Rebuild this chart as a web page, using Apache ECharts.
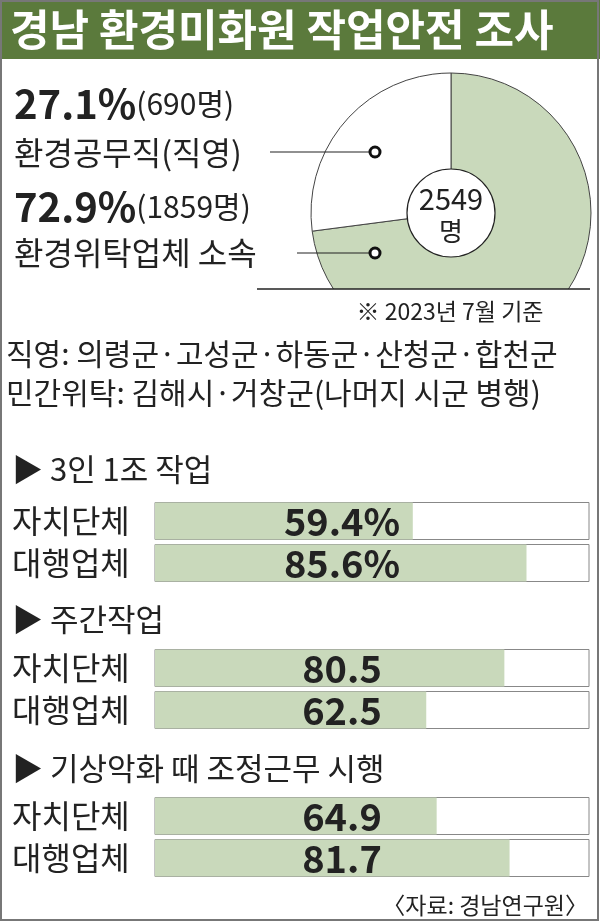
<!DOCTYPE html>
<html><head><meta charset="utf-8">
<script src="https://cdn.jsdelivr.net/npm/echarts@6/dist/echarts.min.js"></script>
<style>html,body{margin:0;padding:0;background:#fff}#c{width:600px;height:922px}</style>
</head><body><div id="c"></div>
<script>
const pieNames = ['환경위탁업체 소속', '환경공무직(직영)'];
const pieValues = [1859, 690];
const rowCats = ['자치단체', '대행업체'];
const sec1 = [59.4, 85.6];
const sec2 = [80.5, 62.5];
const sec3 = [64.9, 81.7];
const sectionTitles = ['▶ 3인 1조 작업', '▶ 주간작업', '▶ 기상악화 때 조정근무 시행'];

const F = '"Noto Sans CJK KR", sans-serif';
const GREEN = '#c9d9bb';
const chart = echarts.init(document.getElementById('c'), null, {renderer: 'canvas'});
const tops = [500, 647, 795];
const secs = [sec1, sec2, sec3];
const grids = [], xAxes = [], yAxes = [], series = [];
secs.forEach((s, i) => {
  grids.push({left: 155, right: 11, top: tops[i], height: 84});
  xAxes.push({gridIndex: i, type: 'value', min: 0, max: 100, show: false});
  yAxes.push({gridIndex: i, type: 'category', data: rowCats, inverse: true,
    axisLine: {show: false}, axisTick: {show: false},
    axisLabel: {fontFamily: F, fontSize: 32, color: '#222', align: 'left', margin: 143}});
  series.push({type: 'bar', xAxisIndex: i, yAxisIndex: i, data: s, barWidth: 37,
    itemStyle: {color: GREEN}, showBackground: true,
    backgroundStyle: {color: '#fff', borderColor: '#888', borderWidth: 1}, silent: true});
  series.push({type: 'bar', xAxisIndex: i, yAxisIndex: i, data: s.map(() => 100), barWidth: 37, barGap: '-100%',
    itemStyle: {color: 'rgba(0,0,0,0)'}, silent: true,
    label: {show: true, position: 'inside', offset: [-30, 1], fontFamily: F, fontWeight: 'bold', fontSize: 38, color: '#222',
      formatter: p => s[p.dataIndex].toFixed(1) + (i === 0 ? '%' : '')}});
});
series.push({type: 'pie', center: [451, 213], radius: [0, 140], startAngle: 90, clockwise: true,
  silent: true, label: {show: false}, labelLine: {show: false}, z: 1,
  data: pieNames.map((n, k) => ({name: n, value: pieValues[k]})),
  itemStyle: {borderColor: '#444', borderWidth: 1},
  color: [GREEN, '#fff']});

const txt = (x, y, t, size, opts = {}) => ({type: 'text', x, y, z: 10, style: Object.assign({text: t, fontFamily: F, fontSize: size, fill: '#222', textVerticalAlign: 'middle'}, opts)});
const rich = {a: {fontFamily: F, fontSize: 40, fontWeight: 'bold', fill: '#222'}, b: {fontFamily: F, fontSize: 30, fill: '#222'}};
const graphic = [
  {type: 'rect', shape: {x: 0, y: 289, width: 600, height: 100}, style: {fill: '#fff'}, z: 5},
  {type: 'rect', shape: {x: 0, y: 0, width: 600, height: 59}, style: {fill: '#5b7a3c'}, z: 6},
  txt(10, 30, '경남 환경미화원 작업안전 조사', 43, {fill: '#fff', fontWeight: 'bold'}),
  {type: 'text', x: 14, y: 104, z: 10, style: {rich, text: '{a|27.1%}{b|(690명)}', textVerticalAlign: 'middle'}},
  txt(14, 153, '환경공무직(직영)', 32),
  {type: 'text', x: 14, y: 207, z: 10, style: {rich, text: '{a|72.9%}{b|(1859명)}', textVerticalAlign: 'middle'}},
  txt(14, 253, '환경위탁업체 소속', 32),
  {type: 'line', z: 10, shape: {x1: 270, y1: 152, x2: 370, y2: 152}, style: {stroke: '#222', lineWidth: 1.2}},
  {type: 'circle', z: 10, shape: {cx: 375, cy: 152, r: 5}, style: {fill: '#fff', stroke: '#111', lineWidth: 3}},
  {type: 'line', z: 10, shape: {x1: 297, y1: 253, x2: 370, y2: 253}, style: {stroke: '#222', lineWidth: 1.2}},
  {type: 'circle', z: 10, shape: {cx: 375, cy: 253, r: 5}, style: {fill: '#fff', stroke: '#111', lineWidth: 3}},
  {type: 'circle', z: 10, shape: {cx: 451, cy: 213, r: 44}, style: {fill: '#fff', stroke: '#222', lineWidth: 1.2}},
  txt(451, 199, '2549', 29, {textAlign: 'center'}),
  txt(451, 231, '명', 26, {textAlign: 'center'}),
  {type: 'line', z: 10, shape: {x1: 257, y1: 289, x2: 590, y2: 289}, style: {stroke: '#222', lineWidth: 1.5}},
  txt(450, 311, '※ 2023년 7월 기준', 23, {textAlign: 'center'}),
  txt(6, 354, '직영: 의령군·고성군·하동군·산청군·합천군', 30),
  txt(6, 393, '민간위탁: 김해시·거창군(나머지 시군 병행)', 30),
  txt(12, 469, sectionTitles[0], 31),
  txt(12, 619, sectionTitles[1], 31),
  txt(12, 768, sectionTitles[2], 31),
  txt(588, 905, '〈자료: 경남연구원〉', 23, {textAlign: 'right'}),
  {type: 'rect', z: 20, shape: {x: 1, y: 1, width: 597, height: 919}, style: {fill: 'none', stroke: '#777', lineWidth: 2}}
];
chart.setOption({animation: false, backgroundColor: '#fff', grid: grids, xAxis: xAxes, yAxis: yAxes, series, graphic});
</script></body></html>
